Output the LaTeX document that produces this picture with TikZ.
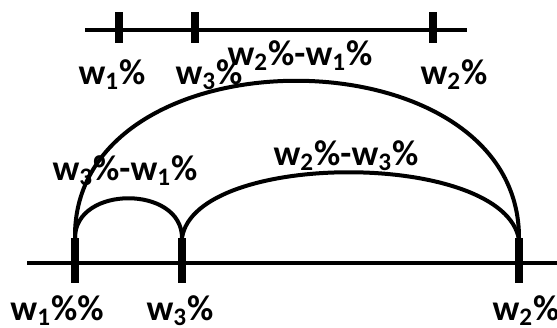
\documentclass[tikz,border=0pt]{standalone}
\usepackage{fontspec}
\setmainfont{Carlito}

\newcommand{\wlab}[2]{w\textsubscript{#1}#2}

\begin{document}
\begin{tikzpicture}[
  x=0.5pt, y=-0.5pt,
  line cap=butt,
  line join=round,
  every node/.style={font=\fontsize{18}{20}\selectfont\bfseries, inner sep=0pt, anchor=base},
  axis/.style={line width=2pt},
  tick/.style={line width=4pt},
  span/.style={line width=2pt}
]
\useasboundingbox (0,0) rectangle (557,327);

% ------------------------------------------------------------------
% Upper scale
% ------------------------------------------------------------------
\begin{scope}
  \coordinate (U0) at (85,30);
  \coordinate (U4) at (467,30);

  \draw[axis] (U0)--(U4);
  \foreach \x in {119,195,433}
    \draw[tick] (\x,12)--(\x,43);

  \node (u1) at (112,84) {\wlab{1}{\%}};
  \node (u3) at (209,84) {\wlab{3}{\%}};
  \node (u2) at (454,84) {\wlab{2}{\%}};
\end{scope}

% ------------------------------------------------------------------
% Lower scale with spans
% ------------------------------------------------------------------
\begin{scope}
  \coordinate (L0) at (27,263);
  \coordinate (L4) at (557,263);
  \coordinate (P1) at (75,238);
  \coordinate (P3) at (182,238);
  \coordinate (P2) at (519,240);

  \draw[axis] (L0)--(L4);
  \foreach \x in {75,182,519}
    \draw[tick] (\x,238)--(\x,283);

  \draw[span] (P1) .. controls (75,185) and (182,185) .. (P3);
  \draw[span] (P3) .. controls (195,150) and (505,150) .. (P2);
  \draw[span] (P1) .. controls (72,28) and (522,28) .. (P2);

  \node (big)   at (300,65)  {\wlab{2}{\%}-\wlab{1}{\%}};
  \node (left)  at (125,180) {\wlab{3}{\%}-\wlab{1}{\%}};
  \node (right) at (346,165) {\wlab{2}{\%}-\wlab{3}{\%}};

  \node (l1) at (57,320)  {\wlab{1}{\%\%}};
  \node (l3) at (180,320) {\wlab{3}{\%}};
  \node (l2) at (526,320) {\wlab{2}{\%}};
\end{scope}

\end{tikzpicture}
\end{document}
